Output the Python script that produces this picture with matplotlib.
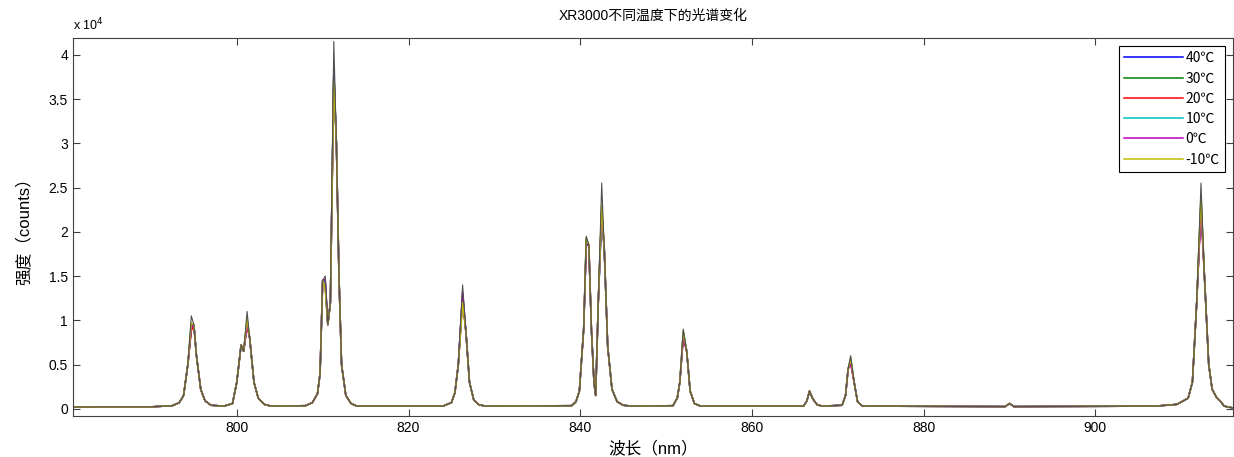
import numpy as np
import matplotlib
matplotlib.use('Agg')
import matplotlib.pyplot as plt
from matplotlib.ticker import FuncFormatter

plt.rcParams['font.family'] = ['Liberation Sans', 'Noto Sans CJK SC', 'DejaVu Sans']

#%% datos (longitud de onda [nm], intensidad [counts])
wl = [781, 785, 790, 792.5, 793.3, 793.8, 794.3, 794.7, 795.0, 795.3, 795.8, 796.3,
      797.0, 798.5, 799.5, 800.0, 800.5, 800.8, 801.2, 801.5, 802.0, 802.5, 803.2,
      804.0, 808.0, 808.8, 809.4, 809.7, 810.0, 810.3, 810.6, 810.9, 811.3, 811.6,
      811.9, 812.2, 812.7, 813.3, 814.0, 824.0, 825.0, 825.4, 825.8, 826.3, 826.7,
      827.1, 827.6, 828.2, 829.0, 839.0, 839.5, 839.9, 840.4, 840.7, 841.0, 841.3,
      841.6, 841.8, 842.1, 842.5, 842.8, 843.2, 843.7, 844.3, 845.0, 846.0, 850.8,
      851.3, 851.6, 852.0, 852.4, 852.8, 853.3, 854.0, 866.0, 866.4, 866.7, 867.1,
      867.6, 868.2, 870.5, 870.9, 871.2, 871.5, 871.9, 872.3, 872.8, 873.5, 889.5,
      890.0, 890.5, 907.0, 909.5, 910.8, 911.3, 911.8, 912.3, 912.7, 913.2, 913.6,
      914.1, 914.6, 915.0, 916.0]
base = [200, 220, 220, 350, 700, 1500, 5000, 10500, 9500, 6000, 2200, 900,
        400, 300, 600, 3000, 7200, 6500, 11000, 8000, 3000, 1200, 500,
        300, 350, 700, 1700, 4000, 14500, 15000, 9500, 12000, 41500, 30000,
        15000, 5000, 1500, 600, 300, 300, 700, 1800, 5000, 14000, 8500,
        3000, 1000, 450, 300, 350, 800, 2000, 9000, 19500, 18500, 9000,
        3000, 1500, 12000, 25500, 18000, 7000, 2200, 800, 400, 300, 350,
        1200, 3000, 9000, 6500, 2000, 600, 300, 300, 900, 2000, 1100,
        450, 300, 400, 1500, 4500, 6000, 3000, 800, 350, 300, 250,
        600, 250, 300, 500, 1200, 3000, 12000, 25500, 15000, 5000, 2200,
        1300, 800, 300, 100]

temps = ['40℃', '30℃', '20℃', '10℃', '0℃', '-10℃']
colores = ['b', (0, 0.5, 0), 'r', 'c', 'm', 'y']

# picos de cada temperatura (40, 30, 20, 10, 0, -10)
picos = {
    794.7: [9000, 9300, 8800, 9500, 9200, 9700],
    801.2: [9500, 9800, 9300, 10000, 9600, 10200],
    810.3: [14000, 14500, 13800, 14200, 14600, 13500],
    811.3: [38000, 38500, 37500, 38200, 37800, 37000],
    826.3: [12500, 13000, 12300, 12800, 13200, 12000],
    840.7: [18500, 19000, 18800, 19200, 18600, 19300],
    842.5: [22000, 22800, 22300, 21800, 22500, 23000],
    852.0: [8200, 8500, 8000, 8700, 8300, 8800],
    871.5: [5300, 5600, 5100, 5500, 5200, 5700],
    912.3: [23000, 23800, 22500, 23500, 22800, 24000],
}

#%% grafico
fig = plt.figure(figsize=(12.34, 4.57), dpi=100)
ax = fig.add_axes([0.059, 0.090, 0.94, 0.827])

for k, (t, c) in enumerate(zip(temps, colores)):
    yy = list(base)
    for w, vals in picos.items():
        yy[wl.index(w)] = vals[k]
    ax.plot(wl, yy, color=c, lw=1.1, label=t)

ax.plot(wl, base, color='#505050', lw=0.8)

ax.set_xlim(780.9, 916)
ax.set_ylim(-800, 41900)
ax.set_xticks([800, 820, 840, 860, 880, 900])
ax.set_yticks(np.arange(0, 40001, 5000))
ax.yaxis.set_major_formatter(FuncFormatter(lambda v, p: '%g' % (v / 1e4)))
ax.tick_params(direction='in', top=True, right=True, labelsize=10,
               color='#404040', length=5)
for s in ax.spines.values():
    s.set_color('#404040')

ax.text(0, 1.012, 'x 10$^4$', transform=ax.transAxes, fontsize=9, ha='left', va='bottom')
ax.set_title('XR3000不同温度下的光谱变化', fontsize=10, pad=13)
ax.set_xlabel('波长（nm）', fontsize=12, labelpad=4)
ax.set_ylabel('强度（counts）', fontsize=12, labelpad=12)

leg = ax.legend(loc='upper right', fancybox=False, framealpha=1,
                prop={'family': ['Noto Sans CJK SC'], 'size': 10},
                edgecolor='black', handlelength=4.2, labelspacing=0.45,
                borderaxespad=0.55, handletextpad=0.2, borderpad=0.4)
leg.get_frame().set_linewidth(0.8)

fig.savefig('out.png', dpi=100)
